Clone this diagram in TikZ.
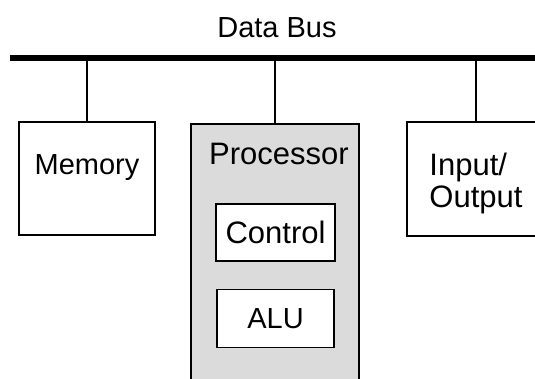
\documentclass[tikz,border=0pt]{standalone}
\usepackage{fontspec}
\setmainfont{Liberation Sans}
\usetikzlibrary{positioning}

\tikzset{
    unit/.style={draw,line width=1.6pt,rectangle,inner sep=0pt,align=left,font=\fontsize{29}{32}\selectfont},
    bigtext/.style={font=\fontsize{31}{32}\selectfont},
    link/.style={line width=1.6pt}
}

\begin{document}
\begin{tikzpicture}[x=1pt,y=-1pt,node distance=27pt]
    \clip (0,0) rectangle (535,379);
    \node [font=\fontsize{29}{32}\selectfont] (title) at (277,28) {Data Bus};
    \coordinate (busL) at (10,58);
    \coordinate (busR) at (545,58);
    \node [unit,minimum width=136pt,minimum height=113pt,text depth=28pt] (mem) at (87,178.5) {Memory};
    \node [unit,fill=black!14,minimum width=168pt,minimum height=270pt] (proc) at (275,259) {};
    \node [bigtext] (proclabel) at (279,154) {Processor};
    \node [unit,bigtext,fill=white,minimum width=119pt,minimum height=57pt] (ctrl) at (275.5,232.5) {Control};
    \node [unit,fill=white,minimum width=117pt,minimum height=58pt] (alu) [below=27pt of ctrl] {ALU};
    \node [unit,bigtext,minimum width=138pt,minimum height=114pt,text height=64pt] (io) at (476,179) {Input/\\Output};
    \draw [line width=5.5pt] (busL) -- (busR);
    \path [link]
        (mem.north) edge (mem.north |- busL)
        (proc.north) edge (proc.north |- busL)
        (io.north) edge (io.north |- busL);
\end{tikzpicture}
\end{document}
